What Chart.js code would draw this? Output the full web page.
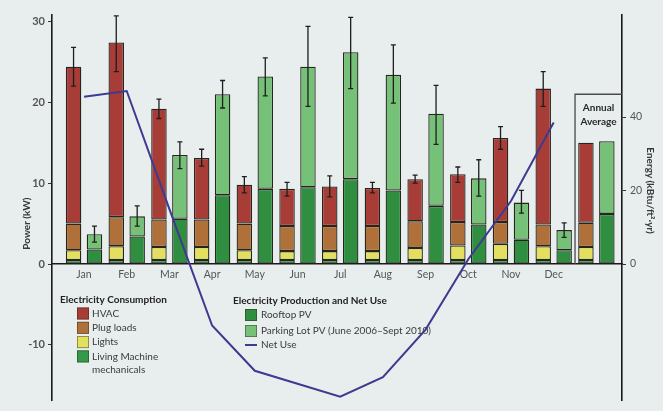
<!DOCTYPE html>
<html>
<head>
<meta charset="utf-8">
<script src="https://cdn.jsdelivr.net/npm/chart.js@4/dist/chart.umd.min.js"></script>
<style>
  html, body { margin: 0; padding: 0; background: #e8edee; }
  #wrap { position: relative; width: 663px; height: 411px; }
</style>
</head>
<body>
<div id="wrap"><canvas id="chart" width="663" height="411"></canvas></div>
<script>
// Monthly building power balance, kW (last entry of each bar series = annual average)
const months = ['Jan', 'Feb', 'Mar', 'Apr', 'May', 'Jun', 'Jul', 'Aug', 'Sep', 'Oct', 'Nov', 'Dec'];
const annualLabel = ['Annual', 'Average'];

// Electricity consumption components (stacked bottom to top)
const livingMachine = [0.5, 0.5, 0.5, 0.5, 0.5, 0.5, 0.5, 0.5, 0.5, 0.5, 0.5, 0.5, 0.5];
const lights        = [1.2, 1.7, 1.6, 1.6, 1.2, 1.1, 1.1, 1.1, 1.5, 1.8, 2.0, 1.7, 1.6];
const plugLoads     = [3.3, 3.6, 3.4, 3.4, 3.3, 3.1, 3.1, 3.1, 3.3, 2.9, 2.7, 2.7, 3.0];
const hvac          = [19.4, 21.6, 13.7, 7.6, 4.8, 4.6, 4.9, 4.7, 5.2, 5.9, 10.4, 16.8, 9.9];
const consHigh      = [26.8, 30.7, 20.4, 14.2, 10.8, 10.1, 10.9, 10.1, 11.0, 12.0, 17.0, 23.8, null];
const consLow       = [22.0, 23.8, 18.0, 12.1, 8.8, 8.4, 8.3, 8.8, 10.0, 10.1, 14.2, 19.5, null];

// Electricity production (stacked bottom to top)
const rooftopPV     = [1.8, 3.4, 5.6, 8.5, 9.3, 9.5, 10.5, 9.1, 7.2, 4.9, 3.0, 1.7, 6.2];
const parkingLotPV  = [1.9, 2.5, 7.9, 12.5, 13.9, 14.9, 15.7, 14.3, 11.4, 5.7, 4.6, 2.5, 9.0];
const prodHigh      = [4.7, 7.2, 15.1, 22.7, 25.5, 29.4, 30.5, 27.1, 22.1, 12.9, 9.1, 5.1, null];
const prodLow       = [2.7, 4.7, 11.8, 19.3, 20.8, 19.5, 21.7, 19.9, 14.8, 8.4, 6.3, 3.3, null];

// Net use per month
const netUse        = [20.7, 21.4, 6.8, -7.6, -13.2, -14.8, -16.4, -14.0, -8.1, 0.6, 7.8, 17.5];

// Axes
const powerTicks  = [-10, 0, 10, 20, 30];
const energyTicks = [0, 20, 40];
const powerMin = -16.9, powerMax = 30.8;
const kWToEnergy = 2.2;          // kW -> kBtu/ft²·yr
const annualBoxTop = 21;         // top of the annual-average frame, kW

const FONT = 'Lato, "Open Sans", sans-serif';
const colors = {
  hvac: '#a83c37', plug: '#b0703a', lights: '#e4df5f', living: '#349a4a',
  rooftop: '#2f8e3f', parking: '#76c178', net: '#3d3a8f', edge: '#26261f'
};

const points = arr => arr.map((v, i) => ({ x: i, y: v }));
const barSet = (label, data, color, stack) => ({
  type: 'bar', label, data: points(data), backgroundColor: color,
  borderColor: colors.edge, borderWidth: 1.3, borderSkipped: false, stack, order: 1
});

const datasets = [
  { type: 'line', label: 'Net Use', data: points(netUse), borderColor: colors.net,
    borderWidth: 2, pointRadius: 0, tension: 0, fill: false, stack: 'net', order: 0 },
  barSet('Living Machine mechanicals', livingMachine, colors.living, 'cons'),
  barSet('Lights', lights, colors.lights, 'cons'),
  barSet('Plug loads', plugLoads, colors.plug, 'cons'),
  barSet('HVAC', hvac, colors.hvac, 'cons'),
  barSet('Rooftop PV', rooftopPV, colors.rooftop, 'prod'),
  barSet('Parking Lot PV (June 2006–Sept 2010)', parkingLotPV, colors.parking, 'prod')
];
const TOP_CONS = 4, TOP_PROD = 6;

// Whiskers on top of each monthly stack
const errorBars = {
  id: 'errorBars',
  afterDatasetsDraw(chart) {
    const { ctx, scales: { y } } = chart;
    ctx.save();
    ctx.strokeStyle = '#1e1e1e';
    ctx.lineWidth = 1.3;
    for (const [di, hi, lo] of [[TOP_CONS, consHigh, consLow], [TOP_PROD, prodHigh, prodLow]]) {
      chart.getDatasetMeta(di).data.forEach((el, i) => {
        if (hi[i] == null) return;
        const x = el.x, yt = y.getPixelForValue(hi[i]), yb = y.getPixelForValue(lo[i]);
        ctx.beginPath();
        ctx.moveTo(x, yt); ctx.lineTo(x, yb);
        ctx.moveTo(x - 2.5, yt); ctx.lineTo(x + 2.5, yt);
        ctx.moveTo(x - 2.5, yb); ctx.lineTo(x + 2.5, yb);
        ctx.stroke();
      });
    }
    ctx.restore();
  }
};

// Frame and caption around the annual-average bars
const annualFrame = {
  id: 'annualFrame',
  beforeDatasetsDraw(chart) {
    const { ctx, chartArea, scales: { x, y } } = chart;
    const left = x.getPixelForValue(11.5), top = y.getPixelForValue(annualBoxTop);
    const bottom = y.getPixelForValue(0), right = chartArea.right;
    ctx.save();
    ctx.strokeStyle = '#4a4a4a';
    ctx.lineWidth = 1.3;
    ctx.beginPath();
    ctx.moveTo(left, bottom); ctx.lineTo(left, top); ctx.lineTo(right, top);
    ctx.stroke();
    ctx.fillStyle = '#2a2a2a';
    ctx.font = `bold 10px ${FONT}`;
    ctx.textAlign = 'center';
    ctx.textBaseline = 'middle';
    const cx = (left + right) / 2;
    ctx.fillText(annualLabel[0], cx, top + 14);
    ctx.fillText(annualLabel[1], cx, top + 28);
    ctx.restore();
  }
};

// Axis titles and the two grouped legends
const annotations = {
  id: 'annotations',
  afterDraw(chart) {
    const { ctx, chartArea, scales: { y, y2 } } = chart;
    const ds = chart.data.datasets;
    ctx.save();
    ctx.fillStyle = '#3a3a3a';
    ctx.font = `bold 10px ${FONT}`;
    ctx.textAlign = 'center';
    ctx.textBaseline = 'middle';

    ctx.save();
    ctx.translate(chartArea.left - 25, y.getPixelForValue(5));
    ctx.rotate(-Math.PI / 2);
    ctx.fillText('Power (kW)', 0, 0);
    ctx.restore();

    ctx.save();
    ctx.translate(chartArea.right + 28, y2.getPixelForValue(20));
    ctx.rotate(Math.PI / 2);
    ctx.fillText('Energy (kBtu/ft²·yr)', 0, 0);
    ctx.restore();

    const swatch = (sx, sy, color) => {
      ctx.fillStyle = color;
      ctx.fillRect(sx, sy - 6, 12, 12);
      ctx.strokeStyle = 'rgba(40,40,30,0.55)';
      ctx.lineWidth = 0.8;
      ctx.strokeRect(sx + 0.4, sy - 5.6, 11.2, 11.2);
    };
    const text = (t, tx, ty, bold) => {
      ctx.fillStyle = bold ? '#222' : '#3a3a3a';
      ctx.font = `${bold ? 'bold ' : ''}10px ${FONT}`;
      ctx.textAlign = 'left';
      ctx.textBaseline = 'middle';
      ctx.fillText(t, tx, ty);
    };

    // Consumption legend
    const g1 = { x: chartArea.left + 8, y: 300 };
    text('Electricity Consumption', g1.x, g1.y, true);
    const consItems = [[ds[4], 'HVAC'], [ds[3], 'Plug loads'], [ds[2], 'Lights'], [ds[1], 'Living Machine']];
    consItems.forEach(([d, label], i) => {
      const ry = g1.y + 13.5 + i * 14.3;
      swatch(g1.x + 17, ry, d.backgroundColor);
      text(label, g1.x + 32, ry, false);
    });
    text('mechanicals', g1.x + 32, g1.y + 13.5 + 4 * 14.3 - 0.5, false);

    // Production legend
    const g2 = { x: 233, y: 301 };
    text('Electricity Production and Net Use', g2.x, g2.y, true);
    swatch(g2.x + 12, g2.y + 14, ds[5].backgroundColor);
    text('Rooftop PV', g2.x + 28, g2.y + 14, false);
    swatch(g2.x + 12, g2.y + 30, ds[6].backgroundColor);
    text(ds[6].label, g2.x + 28, g2.y + 30, false);
    ctx.strokeStyle = ds[0].borderColor;
    ctx.lineWidth = 2;
    ctx.beginPath();
    ctx.moveTo(g2.x + 12, g2.y + 44); ctx.lineTo(g2.x + 24, g2.y + 44);
    ctx.stroke();
    text('Net Use', g2.x + 28, g2.y + 44, false);
    ctx.restore();
  }
};

new Chart(document.getElementById('chart'), {
  data: { datasets },
  plugins: [annualFrame, errorBars, annotations],
  options: {
    responsive: false,
    animation: false,
    devicePixelRatio: 1,
    layout: { padding: { top: 15, bottom: 3, left: 0, right: 0 } },
    plugins: { legend: { display: false }, tooltip: { enabled: false } },
    datasets: { bar: { categoryPercentage: 0.98, barPercentage: 0.74 } },
    scales: {
      x: {
        type: 'linear', position: { y: 0 }, stacked: true, min: -0.75, max: 12.6, offset: false,
        grid: { display: false, drawTicks: false, offset: false },
        border: { display: true, color: '#1a1a1a', width: 1.6 },
        afterBuildTicks: s => { s.ticks = months.map((m, i) => ({ value: i })); },
        ticks: { callback: v => months[v], color: '#555', font: { family: FONT, size: 10.5 },
                 padding: 4, maxRotation: 0, autoSkip: false }
      },
      y: {
        type: 'linear', position: 'left', stacked: true, min: powerMin, max: powerMax,
        afterBuildTicks: s => { s.ticks = powerTicks.map(v => ({ value: v })); },
        grid: { drawOnChartArea: false, drawTicks: true, tickLength: 4, color: '#333' },
        border: { display: true, color: '#1a1a1a', width: 1.6 },
        ticks: { color: '#555', font: { family: FONT, size: 11, weight: 'bold' }, padding: 3 },
        afterFit: s => { s.width = 52; }
      },
      y2: {
        type: 'linear', position: 'right',
        min: powerMin * kWToEnergy, max: powerMax * kWToEnergy,
        afterBuildTicks: s => { s.ticks = energyTicks.map(v => ({ value: v })); },
        grid: { drawOnChartArea: false, drawTicks: true, tickLength: 4, color: '#333' },
        border: { display: true, color: '#1a1a1a', width: 1.6 },
        ticks: { color: '#555', font: { family: FONT, size: 10.5 }, padding: 4 },
        afterFit: s => { s.width = 41; }
      }
    }
  }
});
</script>
</body>
</html>
